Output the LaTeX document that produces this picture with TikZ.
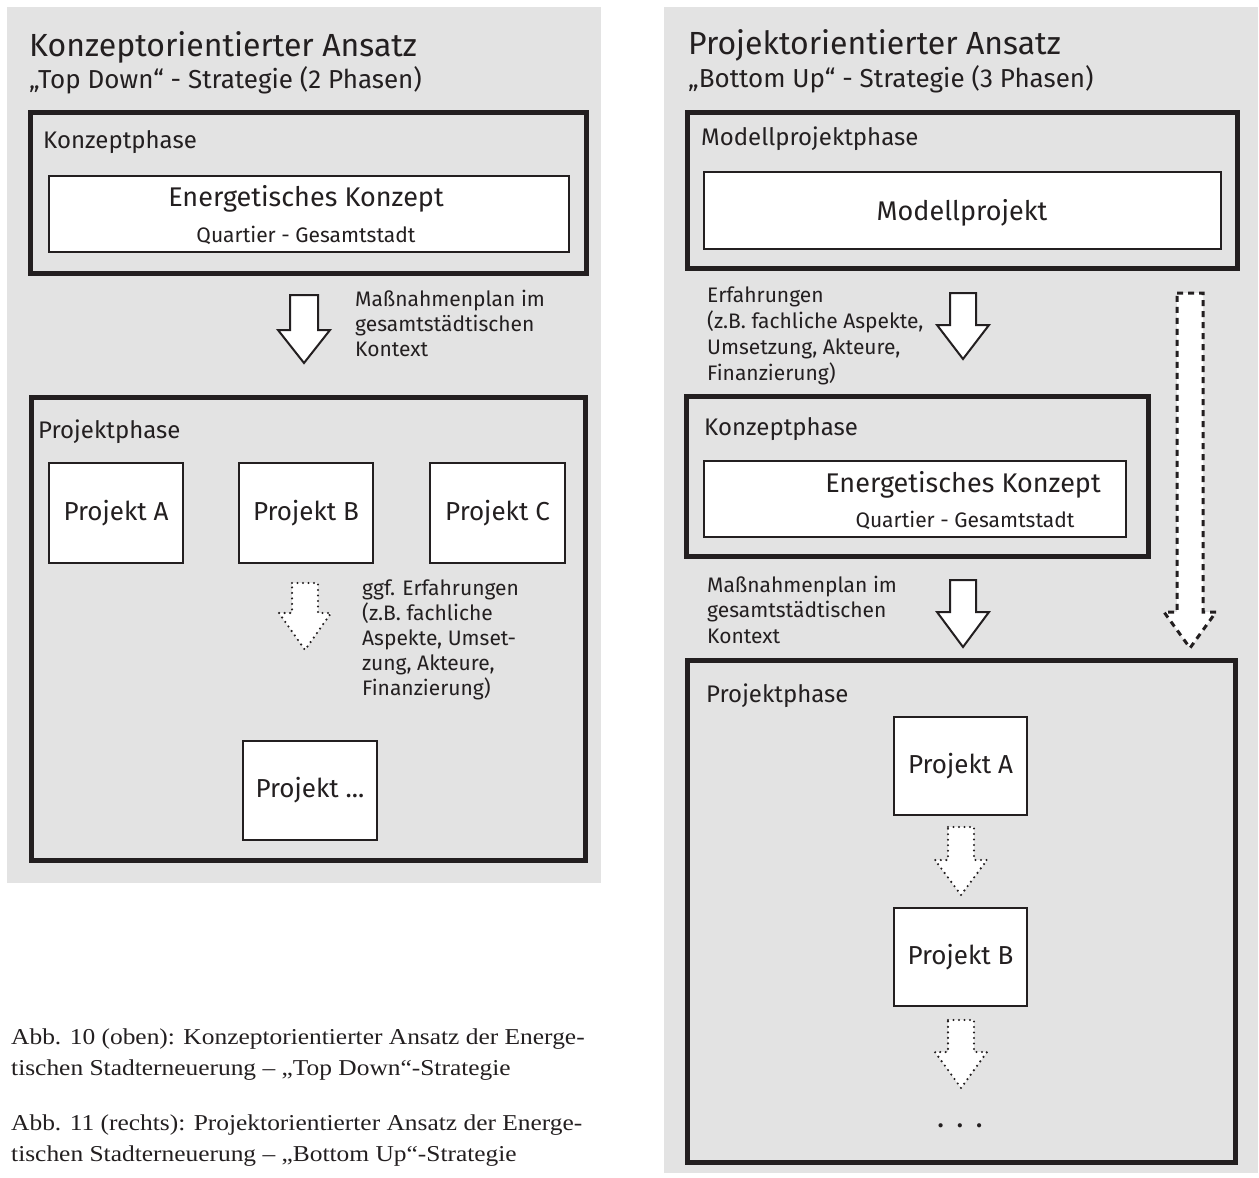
\documentclass[tikz,border=0pt]{standalone}
\usepackage{fontspec}
\setmainfont{Fira Sans}
\newfontfamily\capfont{Liberation Serif}[FakeStretch=1.12]
\definecolor{ink}{RGB}{35,31,32}
\definecolor{panelgray}{RGB}{227,227,227}
\newcommand\fs[1]{\fontsize{#1}{#1}\selectfont}
\newcommand\blockarrow[8]{%
  \coordinate (#1) at (#3,#4);
  \draw[#2] (#3-#7,#4) -- (#3+#7,#4) -- (#3+#7,#5) -- (#3+#8,#5) -- (#3,#6) -- (#3-#8,#5) -- (#3-#7,#5) -- cycle;}
% box from corners: name, style, x1, y1, x2, y2, text
\newcommand\cornerbox[7]{%
  \node[#2, minimum width={#5-#3}, minimum height={#6-#4}] (#1) at ({(#3+#5)/2},{(#4+#6)/2}) {#7};}
\tikzset{
  panel/.style={fill=panelgray, draw=none},
  phasebox/.style={draw=ink, line width=5pt, inner sep=0pt, rectangle},
  whitebox/.style={draw=ink, line width=2.5pt, fill=white, inner sep=0pt, rectangle, text=ink},
  projbox/.style={whitebox, font=\fs{26}},
  txt/.style={inner sep=0pt, text=ink, anchor=base west},
  ctxt/.style={inner sep=0pt, text=ink, anchor=base},
  title/.style={txt, font=\fs{32}},
  subtitle/.style={txt, font=\fs{26}},
  phaselabel/.style={txt, font=\fs{24}},
  note/.style={txt, font=\fs{21}},
  captxt/.style={txt, font=\capfont\fs{22.7}},
  solidarrow/.style={draw=ink, fill=white, line width=2pt, line join=miter},
  dotarrow/.style={draw=ink, fill=white, line width=2.4pt, line cap=round, dash pattern=on 0pt off 5.5pt},
  dasharrow/.style={draw=ink, fill=white, line width=3pt, dash pattern=on 6pt off 5pt},
}
\begin{document}
\begin{tikzpicture}[x=1pt,y=-1pt]
\useasboundingbox (0,0) rectangle (1259,1178);
\fill[white] (0,0) rectangle (1259,1178);

% ---------------- left panel ----------------
\fill[panel] (7,7) rectangle (601,883);
\node[title] (tL) at (29,56) {Konzeptorientierter Ansatz};
\node[subtitle] (sL) at (29,88) {„Top Down“ - Strategie (2 Phasen)};

\cornerbox{kphL}{phasebox}{30}{112}{586}{273}{}
\node[phaselabel] (kphLl) at (43,148) {Konzeptphase};
\cornerbox{ekL}{whitebox}{49}{176}{569}{252}{}
\node[ctxt, font=\fs{27}] (ekLt) at (306,206) {Energetisches Konzept};
\node[ctxt, font=\fs{21}] (ekLs) at (306,242) {Quartier - Gesamtstadt};

\blockarrow{aL1}{solidarrow}{304}{295}{330}{363}{14}{26}
\node[note] (mL1) at (355,306) {Maßnahmenplan im};
\node[note] (mL2) at (355,331) {gesamtstädtischen};
\node[note] (mL3) at (355,356) {Kontext};

\cornerbox{pphL}{phasebox}{31}{397}{585}{860}{}
\node[phaselabel] (pphLl) at (38,438) {Projektphase};
\cornerbox{pAL}{projbox}{49}{463}{183}{563}{Projekt A}
\cornerbox{pBL}{projbox}{239}{463}{373}{563}{Projekt B}
\cornerbox{pCL}{projbox}{430}{463}{565}{563}{Projekt C}

\blockarrow{aL2}{dotarrow}{305}{583}{613}{650}{13}{26}
\node[note] (gL1) at (362,595) {ggf. Erfahrungen};
\node[note] (gL2) at (362,620) {(z.B. fachliche};
\node[note] (gL3) at (362,645) {Aspekte, Umset-};
\node[note] (gL4) at (362,670) {zung, Akteure,};
\node[note] (gL5) at (362,695) {Finanzierung)};

\cornerbox{pXL}{projbox}{243}{741}{377}{840}{Projekt ...}

% captions
\node[captxt] (c1) at (11,1044) {Abb. 10 (oben): Konzeptorientierter Ansatz der Energe-};
\node[captxt] (c2) at (11,1075) {tischen Stadterneuerung – „Top Down“-Strategie};
\node[captxt] (c3) at (11,1130) {Abb. 11 (rechts): Projektorientierter Ansatz der Energe-};
\node[captxt] (c4) at (11,1161) {tischen Stadterneuerung – „Bottom Up“-Strategie};

% ---------------- right panel ----------------
\fill[panel] (664,7) rectangle (1258,1173);
\node[title] (tR) at (688,54) {Projektorientierter Ansatz};
\node[subtitle] (sR) at (688,87) {„Bottom Up“ - Strategie (3 Phasen)};

\cornerbox{mphR}{phasebox}{687}{112}{1237}{268}{}
\node[phaselabel] (mphRl) at (701,145) {Modellprojektphase};
\cornerbox{mpR}{whitebox}{704}{172}{1221}{249}{}
\node[ctxt, font=\fs{27}] (mpRt) at (962,220) {Modellprojekt};

\node[note] (eR1) at (707,302) {Erfahrungen};
\node[note] (eR2) at (707,328) {(z.B. fachliche Aspekte,};
\node[note] (eR3) at (707,354) {Umsetzung, Akteure,};
\node[note] (eR4) at (707,380) {Finanzierung)};
\blockarrow{aR1}{solidarrow}{963}{293}{325}{359}{13}{26}
\blockarrow{aRlong}{dasharrow}{1190}{293}{612}{648}{13}{26}

\cornerbox{kphR}{phasebox}{686}{396}{1148}{556}{}
\node[phaselabel] (kphRl) at (704,435) {Konzeptphase};
\cornerbox{ekR}{whitebox}{704}{461}{1126}{537}{}
\node[ctxt, font=\fs{27}] (ekRt) at (963,492) {Energetisches Konzept};
\node[ctxt, font=\fs{21}] (ekRs) at (965,527) {Quartier - Gesamtstadt};

\node[note] (mR1) at (707,592) {Maßnahmenplan im};
\node[note] (mR2) at (707,617) {gesamtstädtischen};
\node[note] (mR3) at (707,643) {Kontext};
\blockarrow{aR2}{solidarrow}{963}{580}{612}{647}{13}{26}

\cornerbox{pphR}{phasebox}{687}{660}{1235}{1162}{}
\node[phaselabel] (pphRl) at (706,702) {Projektphase};
\cornerbox{pAR}{projbox}{894}{717}{1027}{815}{Projekt A}
\blockarrow{aR3}{dotarrow}{961}{827}{860}{895}{13}{26}
\cornerbox{pBR}{projbox}{894}{908}{1027}{1006}{Projekt B}
\blockarrow{aR4}{dotarrow}{961}{1020}{1052}{1088}{13}{26}
\node[ctxt, font=\fs{30}] (dotsR) at (960,1127) {.\hspace{12pt}.\hspace{12pt}.};
\end{tikzpicture}
\end{document}
